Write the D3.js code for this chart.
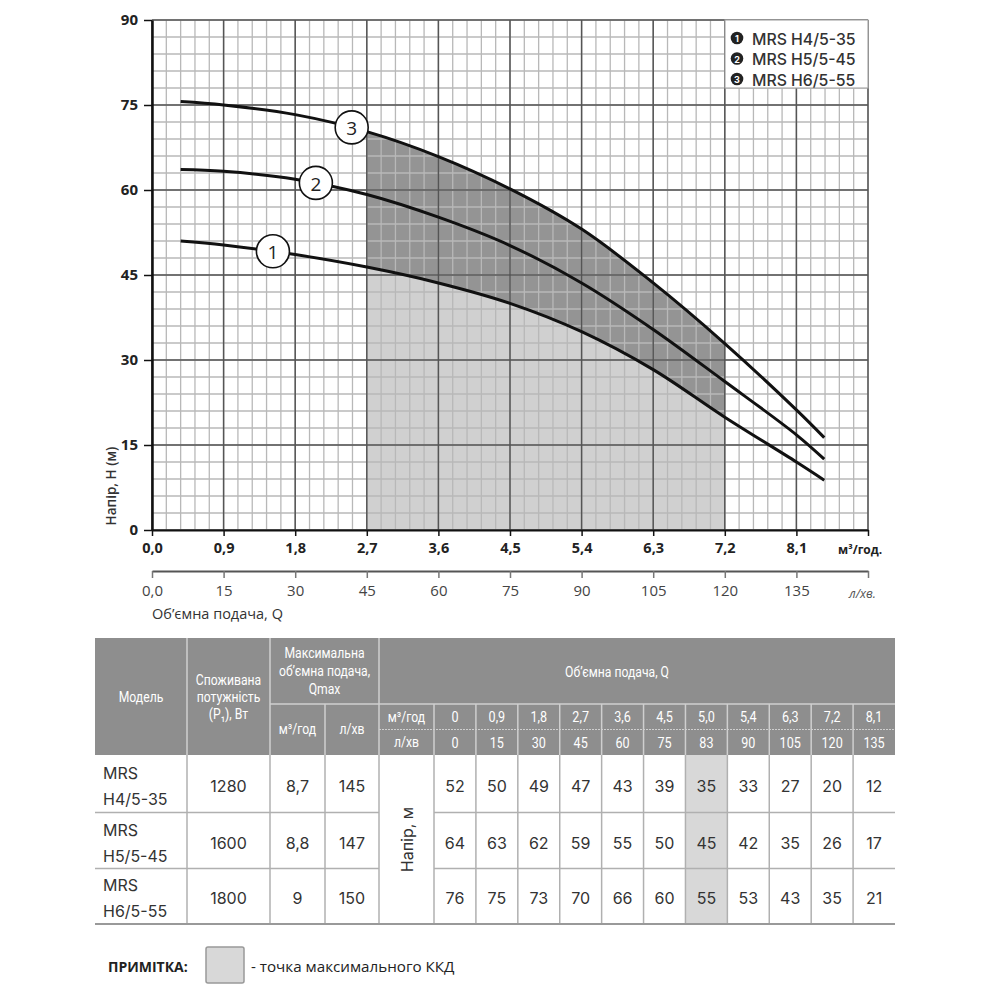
<!DOCTYPE html>
<html>
<head>
<meta charset="utf-8">
<style>
  body { margin: 0; background: #fff; }
</style>
</head>
<body>
<svg id="chart" width="1000" height="1000" viewBox="0 0 1000 1000" xmlns="http://www.w3.org/2000/svg"></svg>
<script src="https://d3js.org/d3.v7.min.js"></script>
<script>

// pump curves (Q in m3/h, H in m)
const curveQ = [0.36, 0.9, 1.8, 2.7, 3.6, 4.5, 5.4, 6.3, 7.2, 8.1, 8.45];
const head1 = [51.0, 50.3, 48.6, 46.4, 43.6, 40.0, 35.0, 28.3, 19.9, 12.0, 8.8];
const head2 = [63.6, 63.3, 61.9, 59.2, 55.2, 50.2, 43.6, 35.4, 26.2, 16.8, 12.5];
const head3 = [75.6, 75.0, 73.3, 70.3, 65.9, 60.2, 53.1, 43.6, 32.9, 21.2, 16.3];
const curveNames = ["1", "2", "3"];
const labelQ = [1.52, 2.06, 2.51];        // where the number circles sit
const bepRange = [2.7, 7.2];               // shaded working range

const m3Ticks = [0, 0.9, 1.8, 2.7, 3.6, 4.5, 5.4, 6.3, 7.2, 8.1, 9.0];
const lmTicks = [0, 15, 30, 45, 60, 75, 90, 105, 120, 135, 150];
const headTicks = [0, 15, 30, 45, 60, 75, 90];

// table
const models = ["MRS H4/5-35", "MRS H5/5-45", "MRS H6/5-55"];
const power = ["1280", "1600", "1800"];
const qmaxM3 = ["8,7", "8,8", "9"];
const qmaxL = ["145", "147", "150"];
const flowM3 = ["0", "0,9", "1,8", "2,7", "3,6", "4,5", "5,0", "5,4", "6,3", "7,2", "8,1"];
const flowL = ["0", "15", "30", "45", "60", "75", "83", "90", "105", "120", "135"];
const heads = [
  [52, 50, 49, 47, 43, 39, 35, 33, 27, 20, 12],
  [64, 63, 62, 59, 55, 50, 45, 42, 35, 26, 17],
  [76, 75, 73, 70, 66, 60, 55, 53, 43, 35, 21]
];
const bepColumn = 6; // "5,0"

const svg = d3.select("#chart");
const chartFont = "'Open Sans', 'Noto Sans', sans-serif";
const tableFont = "Inter, Roboto, sans-serif";

const x = d3.scaleLinear().domain([0, 9]).range([152, 868]);
const xL = d3.scaleLinear().domain([0, 150]).range([152, 868]);
const y = d3.scaleLinear().domain([0, 90]).range([530, 20]);

const series = [head1, head2, head3].map(h => curveQ.map((q, i) => [q, h[i]]));

const line = d3.line()
  .x(d => x(d[0]))
  .y(d => y(d[1]))
  .curve(d3.curveCatmullRom.alpha(0.5));

const area = d3.area()
  .x(d => x(d[0]))
  .y0(y(0))
  .y1(d => y(d[1]))
  .curve(d3.curveCatmullRom.alpha(0.5));

// shaded range
svg.append("clipPath").attr("id", "bep")
  .append("rect")
  .attr("x", x(bepRange[0]))
  .attr("y", y(90))
  .attr("width", x(bepRange[1]) - x(bepRange[0]))
  .attr("height", y(0) - y(90));

svg.append("path")
  .attr("d", area(series[2]))
  .attr("fill", "#949494")
  .attr("clip-path", "url(#bep)");
svg.append("path")
  .attr("d", area(series[0]))
  .attr("fill", "#d0d0d0")
  .attr("clip-path", "url(#bep)");

// grid
const minorX = d3.range(51).map(i => i * 9 / 50);
const minorY = d3.range(31).map(i => i * 3);
const grid = svg.append("g");
grid.selectAll(".mx").data(minorX).join("line")
  .attr("x1", d => x(d)).attr("x2", d => x(d))
  .attr("y1", y(0)).attr("y2", y(90))
  .attr("stroke", "#b8b8b8").attr("stroke-width", 1.3);
grid.selectAll(".my").data(minorY).join("line")
  .attr("x1", x(0)).attr("x2", x(9))
  .attr("y1", d => y(d)).attr("y2", d => y(d))
  .attr("stroke", "#b8b8b8").attr("stroke-width", 1.3);
grid.selectAll(".Mx").data(m3Ticks).join("line")
  .attr("x1", d => x(d)).attr("x2", d => x(d))
  .attr("y1", y(0)).attr("y2", y(90))
  .attr("stroke", "#555").attr("stroke-width", 1.5);
grid.selectAll(".My").data(headTicks).join("line")
  .attr("x1", x(0)).attr("x2", x(9))
  .attr("y1", d => y(d)).attr("y2", d => y(d))
  .attr("stroke", "#555").attr("stroke-width", 1.5);

// curves
const curvePaths = series.map(s =>
  svg.append("path")
    .attr("d", line(s))
    .attr("fill", "none")
    .attr("stroke", "#111")
    .attr("stroke-width", 3)
    .node()
);

// find the point of a path at a given Q
function pointAtQ(node, q) {
  const target = x(q);
  let lo = 0, hi = node.getTotalLength();
  for (let k = 0; k < 40; k++) {
    const mid = (lo + hi) / 2;
    if (node.getPointAtLength(mid).x < target) lo = mid; else hi = mid;
  }
  return node.getPointAtLength(lo);
}

curvePaths.forEach((node, i) => {
  const p = pointAtQ(node, labelQ[i]);
  svg.append("circle")
    .attr("cx", p.x).attr("cy", p.y).attr("r", 16.5)
    .attr("fill", "#fff").attr("stroke", "#111").attr("stroke-width", 1.6);
  svg.append("text")
    .attr("x", p.x).attr("y", p.y + 1)
    .attr("text-anchor", "middle")
    .attr("dominant-baseline", "central")
    .attr("font-family", chartFont)
    .attr("font-size", 19)
    .attr("fill", "#222")
    .text(curveNames[i]);
});

// legend
const legend = svg.append("g");
legend.append("rect")
  .attr("x", 725).attr("y", 20).attr("width", 143).attr("height", 68)
  .attr("fill", "#fff").attr("stroke", "#aaa").attr("stroke-width", 1.2);
models.forEach((m, i) => {
  const ly = 38 + i * 20.5;
  legend.append("circle")
    .attr("cx", 737).attr("cy", ly).attr("r", 6.3).attr("fill", "#222");
  legend.append("text")
    .attr("x", 737).attr("y", ly + 0.5)
    .attr("text-anchor", "middle").attr("dominant-baseline", "central")
    .attr("font-family", tableFont).attr("font-size", 9).attr("font-weight", 700)
    .attr("fill", "#fff").text(curveNames[i]);
  legend.append("text")
    .attr("x", 752).attr("y", ly + 1)
    .attr("dominant-baseline", "central")
    .attr("font-family", tableFont).attr("font-size", 15.8).attr("font-weight", 500)
    .attr("fill", "#333").text(m);
});

// axes
const commaFmt = d => d.toFixed(1).replace(".", ",");

const xAxis = svg.append("g")
  .attr("transform", `translate(0,${y(0)})`)
  .call(d3.axisBottom(x).tickValues(m3Ticks).tickSize(6).tickSizeOuter(0).tickPadding(7)
    .tickFormat(d => d >= 9 ? "" : commaFmt(d)));
xAxis.select(".domain").attr("stroke", "#111").attr("stroke-width", 2.2);
xAxis.selectAll(".tick line").attr("stroke", "#111").attr("stroke-width", 1.5);
xAxis.selectAll("text")
  .attr("font-family", chartFont).attr("font-size", 14.5).attr("font-weight", 700).attr("fill", "#222");

const lAxis = svg.append("g")
  .attr("transform", "translate(0,571)")
  .call(d3.axisBottom(xL).tickValues(lmTicks).tickSize(7).tickSizeOuter(0).tickPadding(7)
    .tickFormat(d => d >= 150 ? "" : (d === 0 ? "0,0" : String(d))));
lAxis.select(".domain").attr("stroke", "#555").attr("stroke-width", 2.2);
lAxis.selectAll(".tick line").attr("stroke", "#777").attr("stroke-width", 1.5);
lAxis.selectAll("text")
  .attr("font-family", chartFont).attr("font-size", 15).attr("fill", "#444");

const yAxis = svg.append("g")
  .attr("transform", `translate(${x(0)},0)`)
  .call(d3.axisLeft(y).tickValues(headTicks).tickSize(8).tickSizeOuter(0).tickPadding(6));
yAxis.select(".domain").attr("stroke", "#111").attr("stroke-width", 2.5);
yAxis.selectAll(".tick line").attr("stroke", "#111").attr("stroke-width", 1.5);
yAxis.selectAll("text")
  .attr("font-family", chartFont).attr("font-size", 15).attr("font-weight", 700).attr("fill", "#222");

svg.append("text")
  .attr("x", 838).attr("y", 549)
  .attr("dominant-baseline", "central")
  .attr("font-family", chartFont).attr("font-size", 12).attr("font-weight", 700).attr("fill", "#222")
  .text("м³/год.");
svg.append("text")
  .attr("x", 849).attr("y", 593)
  .attr("dominant-baseline", "central")
  .attr("font-family", chartFont).attr("font-size", 12.5).attr("font-style", "italic").attr("fill", "#555")
  .text("л/хв.");
svg.append("text")
  .attr("x", 152).attr("y", 613)
  .attr("dominant-baseline", "central")
  .attr("font-family", chartFont).attr("font-size", 14.5).attr("fill", "#333")
  .text("Об’ємна подача, Q");
svg.append("text")
  .attr("transform", "translate(111,486) rotate(-90)")
  .attr("text-anchor", "middle").attr("dominant-baseline", "central")
  .attr("font-family", chartFont).attr("font-size", 13.5).attr("font-weight", 600).attr("fill", "#333")
  .text("Напір, Н (м)");

// ---------- table ----------
const tb = svg.append("g");
const tLeft = 95, tRight = 895;
const colModel = 187, colPower = 270, colQm3 = 325, colUnits = 379, colVals = 434;
const valW = (tRight - colVals) / flowM3.length;
const valX = i => colVals + i * valW;
const hTop = 638, hMid = 704, hSub = 729.5, hBot = 755;
const rowY = [755, 812.5, 868.5, 924];
const sep = "#cfcfcf";

tb.append("rect")
  .attr("x", tLeft).attr("y", hTop).attr("width", tRight - tLeft).attr("height", hBot - hTop)
  .attr("fill", "#8e8e8e");

function hLine(x1, x2, yy, color, w, dash) {
  tb.append("line").attr("x1", x1).attr("x2", x2).attr("y1", yy).attr("y2", yy)
    .attr("stroke", color).attr("stroke-width", w).attr("stroke-dasharray", dash || null);
}
function vLine(xx, y1, y2, color, w) {
  tb.append("line").attr("x1", xx).attr("x2", xx).attr("y1", y1).attr("y2", y2)
    .attr("stroke", color).attr("stroke-width", w);
}
function hText(tx, ty, str, size) {
  tb.append("text")
    .attr("transform", `translate(${tx},${ty}) scale(0.84,1)`)
    .attr("text-anchor", "middle").attr("dominant-baseline", "central")
    .attr("font-family", "Roboto, sans-serif").attr("font-size", size || 14.5)
    .attr("fill", "#fff").text(str);
}
function bText(tx, ty, str, anchor) {
  tb.append("text")
    .attr("x", tx).attr("y", ty)
    .attr("text-anchor", anchor || "middle").attr("dominant-baseline", "central")
    .attr("font-family", tableFont).attr("font-size", 16)
    .attr("fill", "#333").text(str);
}

// header separators
[colModel, colPower, colUnits].forEach(v => vLine(v, hTop, hBot, sep, 1.5));
vLine(colQm3, hMid, hBot, sep, 1.5);
flowM3.forEach((f, i) => vLine(valX(i), hMid, hBot, sep, 1.5));
hLine(colPower, tRight, hMid, sep, 1.5);
hLine(colUnits, tRight, hSub, sep, 1.2, "2,1");

// header text
hText((tLeft + colModel) / 2, 697, "Модель");
["Споживана", "потужність", "(P₁), Вт"].forEach((s, i) => hText((colModel + colPower) / 2, 680 + i * 17, s));
["Максимальна", "об’ємна подача,", "Qmax"].forEach((s, i) => hText((colPower + colUnits) / 2, 653 + i * 18, s));
hText((colPower + colQm3) / 2, (hMid + hBot) / 2, "м³/год");
hText((colQm3 + colUnits) / 2, (hMid + hBot) / 2, "л/хв");
hText(617, 672, "Об’ємна подача, Q");
hText((colUnits + colVals) / 2, (hMid + hSub) / 2, "м³/год");
hText((colUnits + colVals) / 2, (hSub + hBot) / 2, "л/хв");
flowM3.forEach((f, i) => hText(valX(i) + valW / 2, (hMid + hSub) / 2, f, 15));
flowL.forEach((f, i) => hText(valX(i) + valW / 2, (hSub + hBot) / 2, f, 15));

// body
tb.append("rect")
  .attr("x", valX(bepColumn)).attr("y", rowY[0])
  .attr("width", valW).attr("height", rowY[3] - rowY[0])
  .attr("fill", "#d8d8d8");

const bodyLine = "#b0b0b0";
[colModel, colPower, colQm3, colUnits].forEach(v => vLine(v, hBot, rowY[3], bodyLine, 1.5));
flowM3.forEach((f, i) => vLine(valX(i), hBot, rowY[3], bodyLine, 1.5));
[1, 2].forEach(r => {
  hLine(tLeft, colUnits, rowY[r], bodyLine, 1.5);
  hLine(colVals, tRight, rowY[r], bodyLine, 1.5);
});
hLine(tLeft, tRight, rowY[3], "#999", 1.8);

models.forEach((m, r) => {
  const cy = (rowY[r] + rowY[r + 1]) / 2 + 2;
  const parts = m.split(" ");
  bText(103, cy - 13, parts[0], "start");
  bText(103, cy + 13, parts[1], "start");
  bText((colModel + colPower) / 2, cy, power[r]);
  bText((colPower + colQm3) / 2, cy, qmaxM3[r]);
  bText((colQm3 + colUnits) / 2, cy, qmaxL[r]);
  heads[r].forEach((h, i) => bText(valX(i) + valW / 2, cy, h));
});

tb.append("text")
  .attr("transform", `translate(${(colUnits + colVals) / 2},${(rowY[0] + rowY[3]) / 2}) rotate(-90)`)
  .attr("text-anchor", "middle").attr("dominant-baseline", "central")
  .attr("font-family", tableFont).attr("font-size", 16).attr("fill", "#333")
  .text("Напір, м");

// note
svg.append("text")
  .attr("x", 108).attr("y", 966)
  .attr("dominant-baseline", "central")
  .attr("font-family", chartFont).attr("font-size", 14).attr("font-weight", 700).attr("fill", "#222")
  .text("ПРИМІТКА:");
svg.append("rect")
  .attr("x", 206).attr("y", 947).attr("width", 38).attr("height", 36).attr("rx", 2)
  .attr("fill", "#d8d8d8").attr("stroke", "#999").attr("stroke-width", 1.5);
svg.append("text")
  .attr("x", 251).attr("y", 966)
  .attr("dominant-baseline", "central")
  .attr("font-family", chartFont).attr("font-size", 15.2).attr("fill", "#222")
  .text("- точка максимального ККД");
</script>
</body>
</html>
